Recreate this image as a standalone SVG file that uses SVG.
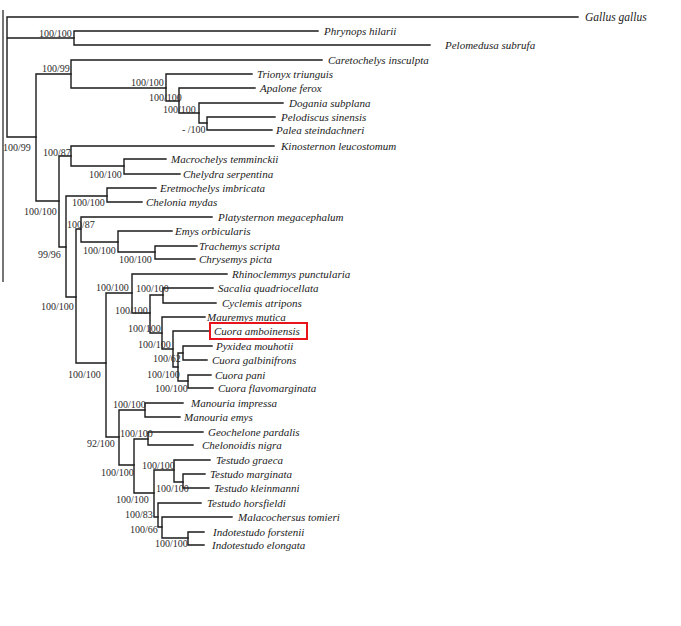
<svg xmlns="http://www.w3.org/2000/svg" width="681" height="626" viewBox="0 0 681 626">
<style>
.br{fill:none;stroke:#1a1a1a;stroke-width:1.4;stroke-linecap:square}
.tx{font-family:"Liberation Serif","Times New Roman",serif;font-style:italic;font-size:11px;fill:#1a1a1a}
.sp{font-family:"Liberation Serif","Times New Roman",serif;font-size:10px;fill:#2a2a2a}
</style>
<rect width="681" height="626" fill="#ffffff"/>
<line x1="3" y1="10" x2="3" y2="282" stroke="#1a1a1a" stroke-width="1.2"/>
<g id="connectors" class="br">
<path d="M7,17V137M7,17H578M7,38H74M7,137H36"/>
<path d="M74,31V45M74,31H318M74,45H430"/>
<path d="M36,74V201M36,74H71M36,201H59"/>
<path d="M71,60V88M71,60H322M71,88H166"/>
<path d="M166,74V101M166,74H252M166,101H179"/>
<path d="M179,88V113M179,88H255M179,113H199"/>
<path d="M199,103V123M199,103H283M199,123H207"/>
<path d="M207,117V130M207,117H275M207,130H272"/>
<path d="M59,156V247M59,156H71M59,247H66"/>
<path d="M71,146V166M71,146H274M71,166H124"/>
<path d="M124,159V174M124,159H166M124,174H180"/>
<path d="M66,196V297M66,196H107M66,297H76"/>
<path d="M107,188V202M107,188H156M107,202H142"/>
<path d="M76,229V363M76,229H81M76,363H106"/>
<path d="M81,217V242M81,217H212M81,242H118"/>
<path d="M118,231V252M118,231H172M118,252H155"/>
<path d="M155,246V259M155,246H197M155,259H195"/>
<path d="M106,293V437M106,293H132M106,437H119"/>
<path d="M132,274V313M132,274H227M132,313H150"/>
<path d="M150,295V333M150,295H163M150,333H162"/>
<path d="M163,288V303M163,288H213M163,303H216"/>
<path d="M162,317V349M162,317H205M162,349H173"/>
<path d="M173,331V367M173,331H209M173,367H178"/>
<path d="M178,353V381M178,353H183M178,381H188"/>
<path d="M183,346V360M183,346H212M183,360H207"/>
<path d="M188,375V388M188,375H211M188,388H213"/>
<path d="M119,410V465M119,410H145M119,465H134"/>
<path d="M145,403V417M145,403H183M145,417H180"/>
<path d="M134,439V493M134,439H148M134,493H154"/>
<path d="M148,432V445M148,432H203M148,445H193"/>
<path d="M154,470V517M154,470H174M154,517H158"/>
<path d="M174,460V482M174,460H210M174,482H183"/>
<path d="M183,474V488M183,474H205M183,488H209"/>
<path d="M158,503V527M158,503H201M158,527H162"/>
<path d="M162,517V538M162,517H232M162,538H188"/>
<path d="M188,532V545M188,532H204M188,545H204"/>
</g>
<g id="taxa" class="tx">
<g id="t-gallus"><text x="585" y="21" style="font-size:11.5px">Gallus gallus</text></g>
<g id="t-phrynops"><text x="324" y="35">Phrynops hilarii</text></g>
<g id="t-pelomedusa"><text x="445" y="49">Pelomedusa subrufa</text></g>
<g id="t-caretochelys"><text x="328" y="64">Caretochelys insculpta</text></g>
<g id="t-trionyx"><text x="257" y="78">Trionyx triunguis</text></g>
<g id="t-apalone"><text x="260" y="92">Apalone ferox</text></g>
<g id="t-dogania"><text x="289" y="107">Dogania subplana</text></g>
<g id="t-pelodiscus"><text x="281" y="121">Pelodiscus sinensis</text></g>
<g id="t-palea"><text x="276" y="134">Palea steindachneri</text></g>
<g id="t-kinosternon"><text x="281" y="150">Kinosternon leucostomum</text></g>
<g id="t-macrochelys"><text x="171" y="163">Macrochelys temminckii</text></g>
<g id="t-chelydra"><text x="183" y="178">Chelydra serpentina</text></g>
<g id="t-eretmochelys"><text x="160" y="192">Eretmochelys imbricata</text></g>
<g id="t-chelonia"><text x="146" y="206">Chelonia mydas</text></g>
<g id="t-platysternon"><text x="218" y="221">Platysternon megacephalum</text></g>
<g id="t-emys"><text x="175" y="235">Emys orbicularis</text></g>
<g id="t-trachemys"><text x="199" y="250">Trachemys scripta</text></g>
<g id="t-chrysemys"><text x="199" y="263">Chrysemys picta</text></g>
<g id="t-rhinoclemmys"><text x="232" y="278">Rhinoclemmys punctularia</text></g>
<g id="t-sacalia"><text x="218" y="292">Sacalia quadriocellata</text></g>
<g id="t-cyclemis"><text x="222" y="307">Cyclemis atripons</text></g>
<g id="t-mauremys"><text x="207" y="321">Mauremys mutica</text></g>
<g id="t-cuora-amb"><text x="214" y="335">Cuora amboinensis</text><rect x="210" y="323" width="97" height="16" fill="none" stroke="#e8131b" stroke-width="2"/></g>
<g id="t-pyxidea"><text x="216" y="350">Pyxidea mouhotii</text></g>
<g id="t-cuora-gal"><text x="212" y="364">Cuora galbinifrons</text></g>
<g id="t-cuora-pani"><text x="215" y="379">Cuora pani</text></g>
<g id="t-cuora-flavo"><text x="218" y="392">Cuora flavomarginata</text></g>
<g id="t-manouria-imp"><text x="191" y="407">Manouria impressa</text></g>
<g id="t-manouria-emys"><text x="184" y="421">Manouria emys</text></g>
<g id="t-geochelone"><text x="208" y="436">Geochelone pardalis</text></g>
<g id="t-chelonoidis"><text x="202" y="449">Chelonoidis nigra</text></g>
<g id="t-testudo-gra"><text x="216" y="464">Testudo graeca</text></g>
<g id="t-testudo-mar"><text x="210" y="478">Testudo marginata</text></g>
<g id="t-testudo-kle"><text x="214" y="492">Testudo kleinmanni</text></g>
<g id="t-testudo-hor"><text x="207" y="507">Testudo horsfieldi</text></g>
<g id="t-malacochersus"><text x="238" y="521">Malacochersus tomieri</text></g>
<g id="t-indo-for"><text x="213" y="536">Indotestudo forstenii</text></g>
<g id="t-indo-elo"><text x="212" y="549">Indotestudo elongata</text></g>
</g>
<g id="support" class="sp">
<text x="39" y="37">100/100</text>
<text x="42" y="72">100/99</text>
<text x="3" y="151">100/99</text>
<text x="131" y="86">100/100</text>
<text x="149" y="101">100/100</text>
<text x="163" y="113">100/100</text>
<text x="182" y="133">- /100</text>
<text x="43" y="156">100/87</text>
<text x="89" y="178">100/100</text>
<text x="24" y="215">100/100</text>
<text x="72" y="206">100/100</text>
<text x="67" y="228">100/87</text>
<text x="38" y="258">99/96</text>
<text x="83" y="254">100/100</text>
<text x="119" y="263">100/100</text>
<text x="96" y="291">100/100</text>
<text x="41" y="310">100/100</text>
<text x="136" y="292">100/100</text>
<text x="115" y="314">100/100</text>
<text x="128" y="332">100/100</text>
<text x="138" y="348">100/100</text>
<text x="153" y="362">100/62</text>
<text x="147" y="378">100/100</text>
<text x="155" y="392">100/100</text>
<text x="68" y="378">100/100</text>
<text x="113" y="408">100/100</text>
<text x="87" y="447">92/100</text>
<text x="120" y="437">100/100</text>
<text x="101" y="476">100/100</text>
<text x="142" y="469">100/100</text>
<text x="156" y="492">100/100</text>
<text x="116" y="503">100/100</text>
<text x="125" y="518">100/83</text>
<text x="130" y="533">100/66</text>
<text x="155" y="547">100/100</text>
</g>
</svg>
